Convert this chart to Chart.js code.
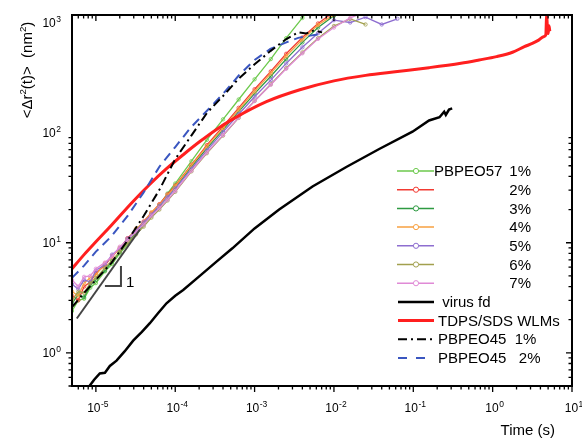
<!DOCTYPE html>
<html>
<head>
<meta charset="utf-8">
<script src="https://cdn.jsdelivr.net/npm/chart.js@4"></script>
<style>
  body { margin: 0; background: #fff; }
  #wrap { width: 582px; height: 440px; }
</style>
</head>
<body>
<div id="wrap"><canvas id="msdChart" width="582" height="440"></canvas></div>
<script>
// time grid (s) shared by the PBPEO57 series
const t57 = [5.0e-6, 6.0e-6, 7.1e-6, 8.5e-6, 1.0e-5, 1.3e-5, 1.6e-5, 2.0e-5, 2.5e-5, 3.2e-5,
  4.0e-5, 5.0e-5, 6.3e-5, 8.0e-5, 1.0e-4, 1.6e-4, 2.5e-4, 4.0e-4, 6.3e-4, 1.0e-3,
  1.6e-3, 2.5e-3, 4.0e-3, 6.3e-3, 1.0e-2, 1.6e-2, 2.5e-2, 4.0e-2, 6.3e-2];

// MSD (nm^2) of PBPEO57 at 1% .. 7%
const msd57_1 = [2.4, 3.0, 3.1, 3.9, 4.3, 5.5, 6.4, 8.0, 9.6, 12.2, 14.6, 18.1, 22.0, 28.0, 34.5, 55, 86, 132, 200, 305, 465, 720, 1100, 1700, null, null, null, null, null];
const msd57_2 = [3.3, 3.0, 4.0, 4.4, 5.3, 6.2, 7.6, 8.8, 11.0, 13.0, 15.6, 18.6, 22.4, 27.5, 33, 51, 77, 114, 168, 248, 360, 520, 730, 980, 1250, null, null, null, null];
const msd57_3 = [2.8, 3.4, 3.2, 4.1, 4.6, 5.6, 6.8, 8.2, 10.2, 12.2, 14.8, 17.6, 21.5, 26, 31.5, 49, 72, 106, 155, 226, 325, 465, 660, 900, 1150, 1400, null, null, null];
const msd57_4 = [3.6, 3.3, 4.3, 4.8, 5.1, 6.5, 7.4, 9.0, 10.6, 13.4, 15.2, 18.9, 22.0, 27, 32.5, 50.5, 75, 110, 162, 237, 345, 495, 700, 950, 1180, 1300, null, null, null];
const msd57_5 = [4.2, 3.8, 4.6, 4.4, 5.6, 6.3, 7.8, 8.9, 10.9, 12.8, 15.3, 18.0, 21.6, 26, 31, 47, 69, 101, 147, 212, 300, 425, 595, 800, 1050, 1000, 1120, 960, 1080];
const msd57_6 = [3.0, 3.6, 3.5, 4.3, 4.8, 5.9, 6.9, 8.3, 9.9, 11.9, 14.0, 16.9, 20.0, 24.2, 29, 44.5, 65, 94, 136, 194, 275, 385, 535, 720, 930, 1080, 960, null, null];
const msd57_7 = [4.6, 4.0, 4.9, 5.0, 5.8, 6.6, 7.5, 9.2, 10.5, 12.6, 14.6, 17.6, 20.6, 24.6, 29.5, 45, 66, 95, 137, 194, 272, 380, 525, 710, 900, 1100, 1250, null, null];

// virus fd
const tVirus = [8.3e-6, 9.5e-6, 1.12e-5, 1.3e-5, 1.5e-5, 1.82e-5, 2.3e-5, 2.95e-5, 3.8e-5, 4.79e-5,
  6.1e-5, 7.76e-5, 1.0e-4, 1.26e-4, 2.04e-4, 3.2e-4, 5.25e-4, 1.0e-3, 2.04e-3, 5.37e-3,
  1.45e-2, 3.72e-2, 9.77e-2, 0.158, 0.214, 0.245, 0.257, 0.282, 0.309];
const msdVirus = [0.50, 0.57, 0.65, 0.66, 0.76, 0.85, 1.03, 1.29, 1.55, 1.86,
  2.3, 2.82, 3.3, 3.72, 5.0, 6.6, 8.9, 13.5, 20, 32.4,
  49, 71, 102, 129, 138, 155, 145, 162, 166];

// TDPS/SDS wormlike micelles
const tWLM = [5.0e-6, 7.1e-6, 1.0e-5, 1.58e-5, 2.82e-5, 4.79e-5, 7.76e-5, 1.26e-4, 2.04e-4, 3.31e-4,
  5.25e-4, 1.41e-3, 3.72e-3, 1.0e-2, 2.51e-2, 6.31e-2, 0.158, 0.398, 0.676, 1.12,
  1.78, 2.51, 3.16, 3.80, 4.37, 4.68, 4.79, 4.90, 5.01, 5.13, 5.25];
const msdWLM = [5.8, 7.8, 10.2, 14.5, 23.0, 34, 47, 63, 83, 107,
  132, 191, 245, 295, 331, 359, 389, 427, 457, 490,
  537, 603, 646, 692, 741, 776, 1175, 891, 794, 933, 832];

// PBPEO45 1% (dash-dot) and 2% (dashed)
const t45a = [5.0e-6, 7.1e-6, 1.0e-5, 1.58e-5, 2.51e-5, 3.98e-5, 6.31e-5, 1.0e-4, 1.58e-4, 2.51e-4,
  3.98e-4, 6.31e-4, 1.0e-3, 1.58e-3, 2.51e-3, 3.55e-3, 4.47e-3, 5.62e-3, 7.08e-3];
const msd45a = [2.6, 3.5, 4.6, 6.6, 10.5, 17.4, 30.2, 57.5, 93, 151,
  214, 309, 417, 550, 708, 813, 794, 851, 813];
const t45b = [5.0e-6, 7.1e-6, 1.0e-5, 1.58e-5, 2.51e-5, 3.98e-5, 6.31e-5, 1.0e-4, 1.58e-4, 2.51e-4,
  3.98e-4, 6.31e-4, 1.0e-3, 1.58e-3, 2.51e-3, 3.55e-3, 5.01e-3, 6.31e-3];
const msd45b = [4.8, 6.2, 8.3, 11.5, 17.5, 28.5, 49, 74, 112, 158,
  224, 330, 457, 575, 660, 725, 760, 780];

// slope-1 guide and its little triangle
const tSlope = [5.75e-6, 3.59e-5];
const msdSlope = [2.05, 13.2];
const tTri = [1.30e-5, 2.07e-5, 2.07e-5];
const msdTri = [4.04, 4.04, 6.14];

const xTickExp = [-5, -4, -3, -2, -1, 0, 1];
const yTickExp = [0, 1, 2, 3];

const labels57 = ['1%', '2%', '3%', '4%', '5%', '6%', '7%'];
const colors57 = ['#6cc94c', '#f23a32', '#2e9a42', '#f7a040', '#8e6ed0', '#a2a04e', '#e08ad6'];
const otherLabels = [' virus fd', 'TDPS/SDS WLMs', 'PBPEO45  1%', 'PBPEO45   2%'];

const FONT = '"Liberation Sans", Arial, sans-serif';

function pts(xs, ys) {
  const out = [];
  xs.forEach((x, i) => { if (ys[i] != null) out.push({x: x, y: ys[i]}); });
  return out;
}

const sets57 = [msd57_1, msd57_2, msd57_3, msd57_4, msd57_5, msd57_6, msd57_7].map((arr, i) => ({
  label: 'PBPEO57 ' + labels57[i],
  data: pts(t57, arr),
  showLine: true,
  borderColor: colors57[i],
  borderWidth: 1.3,
  pointRadius: 1.7,
  pointBorderWidth: 0.8,
  pointBorderColor: colors57[i],
  pointBackgroundColor: 'rgba(0,0,0,0)'
})).reverse();

const datasets = [
  { label: 'PBPEO45 1%', data: pts(t45a, msd45a), showLine: true, borderColor: '#000',
    borderWidth: 2, borderDash: [9, 4, 2, 4], pointRadius: 0 },
  { label: 'PBPEO45 2%', data: pts(t45b, msd45b), showLine: true, borderColor: '#3a56c0',
    borderWidth: 2, borderDash: [9, 6], pointRadius: 0 },
  { label: 'slope', data: pts(tSlope, msdSlope), showLine: true, borderColor: '#444',
    borderWidth: 2, pointRadius: 0 },
  { label: 'tri', data: pts(tTri, msdTri), showLine: true, borderColor: '#444',
    borderWidth: 2, pointRadius: 0 },
  { label: 'TDPS/SDS WLMs', data: pts(tWLM, msdWLM), showLine: true, borderColor: '#ff1f1f',
    borderWidth: 3, pointRadius: 0, cubicInterpolationMode: 'monotone' },
  { label: 'virus fd', data: pts(tVirus, msdVirus), showLine: true, borderColor: '#000',
    borderWidth: 2.5, pointRadius: 0 }
].concat(sets57);

// draws "10" with a superscript exponent
function drawPow(ctx, exp, x, base, align) {
  ctx.font = '12px ' + FONT;
  const w1 = ctx.measureText('10').width;
  ctx.font = '8.5px ' + FONT;
  const w2 = ctx.measureText(String(exp)).width;
  const total = w1 + w2 + 0.5;
  let sx = align === 'center' ? x - total / 2 : x - total;
  ctx.textAlign = 'left';
  ctx.font = '12px ' + FONT;
  ctx.fillText('10', sx, base);
  ctx.font = '8.5px ' + FONT;
  ctx.fillText(String(exp), sx + w1 + 0.5, base - 5);
}

// sequence of [text, isSup] pieces drawn along the baseline
function drawRich(ctx, parts, x, base, size) {
  let cx = x;
  parts.forEach(p => {
    ctx.font = (p[1] ? size * 0.65 : size) + 'px ' + FONT;
    ctx.fillText(p[0], cx, p[1] ? base - size * 0.4 : base);
    cx += ctx.measureText(p[0]).width;
  });
}
function richWidth(ctx, parts, size) {
  let w = 0;
  parts.forEach(p => {
    ctx.font = (p[1] ? size * 0.65 : size) + 'px ' + FONT;
    w += ctx.measureText(p[0]).width;
  });
  return w;
}

const framePlugin = {
  id: 'frame',
  afterDatasetsDraw(chart) {
    const {ctx, chartArea: a, scales: {x, y}} = chart;
    ctx.save();
    ctx.fillStyle = '#000';
    ctx.strokeStyle = '#000';

    // ticks
    ctx.lineWidth = 1.3;
    ctx.beginPath();
    for (let e = -6; e <= 1; e++) {
      for (let m = 1; m <= 9; m++) {
        const v = m * Math.pow(10, e);
        const len = m === 1 ? 6 : 3.5;
        if (v >= x.min && v <= x.max * 1.0001) {
          const px = x.getPixelForValue(v);
          ctx.moveTo(px, a.bottom); ctx.lineTo(px, a.bottom + len);
          ctx.moveTo(px, a.top); ctx.lineTo(px, a.top + len);
        }
        if (v >= y.min && v <= y.max) {
          const py = y.getPixelForValue(v);
          ctx.moveTo(a.left, py); ctx.lineTo(a.left - len, py);
          ctx.moveTo(a.right, py); ctx.lineTo(a.right - len, py);
        }
      }
    }
    ctx.stroke();

    // frame
    ctx.lineWidth = 2;
    ctx.strokeRect(a.left, a.top, a.right - a.left, a.bottom - a.top);

    // tick labels
    ctx.textBaseline = 'alphabetic';
    xTickExp.forEach(e => drawPow(ctx, e, x.getPixelForValue(Math.pow(10, e)) + 2, a.bottom + 26, 'center'));
    yTickExp.forEach(e => drawPow(ctx, e, a.left - 11, y.getPixelForValue(Math.pow(10, e)) + 4.5, 'right'));

    // axis titles
    ctx.textAlign = 'left';
    ctx.font = '15px ' + FONT;
    const xt = 'Time (s)';
    ctx.fillText(xt, 555 - ctx.measureText(xt).width, 435);

    const yParts = [['<\u0394r', false], ['2', true], ['(t)>  (nm', false], ['2', true], [')', false]];
    const yw = richWidth(ctx, yParts, 15);
    ctx.save();
    ctx.translate(32, 70 + yw / 2);
    ctx.rotate(-Math.PI / 2);
    drawRich(ctx, yParts, 0, 0, 15);
    ctx.restore();

    // slope label
    ctx.font = '15px ' + FONT;
    ctx.fillText('1', x.getPixelForValue(tTri[2]) + 5, y.getPixelForValue(msdTri[0]) + 1);

    // legend
    const rowY = i => 171 + i * 18.7;
    const lx0 = 397, lx1 = 434;
    ctx.textBaseline = 'middle';
    colors57.forEach((c, i) => {
      const ry = rowY(i);
      ctx.strokeStyle = c;
      ctx.lineWidth = 1.5;
      ctx.setLineDash([]);
      ctx.beginPath(); ctx.moveTo(lx0, ry); ctx.lineTo(lx1, ry); ctx.stroke();
      ctx.lineWidth = 1;
      ctx.fillStyle = '#fff';
      ctx.beginPath(); ctx.arc(416, ry, 2.6, 0, Math.PI * 2); ctx.fill(); ctx.stroke();
      ctx.fillStyle = '#000';
      ctx.font = '15px ' + FONT;
      if (i === 0) { ctx.textAlign = 'left'; ctx.fillText('PBPEO57', 434, ry + 1); }
      ctx.textAlign = 'right';
      ctx.fillText(labels57[i], 531, ry + 1);
    });
    const styles = [
      {c: '#000', w: 2.5, d: []},
      {c: '#ff1f1f', w: 3, d: []},
      {c: '#000', w: 2, d: [9, 4, 2, 4]},
      {c: '#3a56c0', w: 2, d: [9, 9]}
    ];
    otherLabels.forEach((t, k) => {
      const ry = rowY(7 + k);
      const s = styles[k];
      ctx.strokeStyle = s.c; ctx.lineWidth = s.w; ctx.setLineDash(s.d);
      ctx.beginPath(); ctx.moveTo(lx0 + 1, ry); ctx.lineTo(lx1, ry); ctx.stroke();
      ctx.setLineDash([]);
      ctx.fillStyle = '#000';
      ctx.textAlign = 'left';
      ctx.font = '15px ' + FONT;
      ctx.fillText(t, 438, ry + 1);
    });
    ctx.restore();
  }
};

const ctx = document.getElementById('msdChart').getContext('2d');
const msdChart = new Chart(ctx, {
  type: 'scatter',
  data: { datasets: datasets },
  options: {
    responsive: false,
    animation: false,
    layout: { padding: { left: 72, right: 10, top: 15, bottom: 54 } },
    plugins: { legend: { display: false }, tooltip: { enabled: false } },
    elements: { line: { tension: 0 } },
    scales: {
      x: { type: 'logarithmic', min: 5e-6, max: 10, display: false },
      y: { type: 'logarithmic', min: 0.5, max: 1170, display: false }
    }
  },
  plugins: [framePlugin]
});
</script>
</body>
</html>
